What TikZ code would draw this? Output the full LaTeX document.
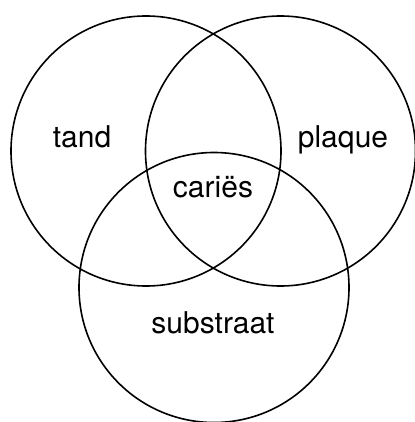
\documentclass[tikz,border=0pt]{standalone}
\usepackage{fontspec}
\setmainfont{TeX Gyre Heros}
\begin{document}
\begin{tikzpicture}[x=1pt,y=-1pt,
  venn/.style={circle,draw,line width=1.6pt,minimum size=270pt,inner sep=0pt},
  lbl/.style={anchor=base,inner sep=0pt,font=\fontsize{30}{35}\selectfont}]
\useasboundingbox (0,0) rectangle (414,422);
\node[venn] (tandc) at (146,151) {};
\node[venn] (plaquec) at (280.5,151) {};
\node[venn] (substc) at (214,287.5) {};
\node[lbl] (tand) at (82,147) {tand};
\node[lbl] (plaque) at (343,147) {plaque};
\node[lbl] (caries) at (213,197) {cariës};
\node[lbl] (subst) at (213,333) {substraat};
\end{tikzpicture}
\end{document}
